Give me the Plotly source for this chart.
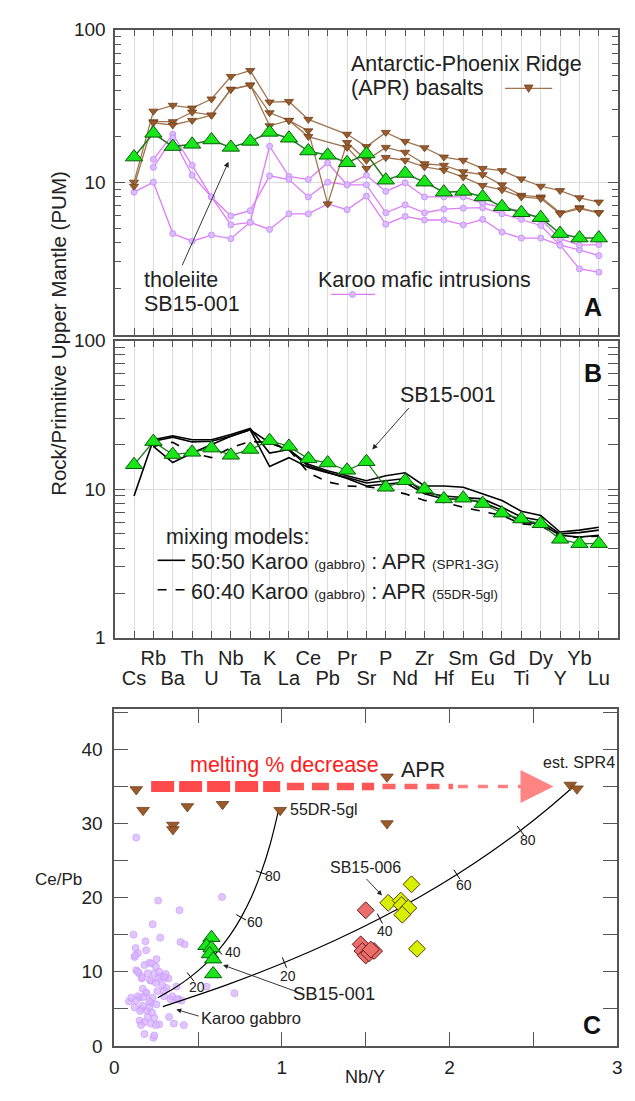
import math
import plotly.graph_objects as go

W, H = 635, 1101
FONT = "Liberation Sans, Arial, sans-serif"

# ---------------- Panels A & B: spider diagram data ----------------
elements = ["Cs", "Rb", "Ba", "Th", "U", "Nb", "Ta", "K", "La", "Ce", "Pb", "Pr", "Sr",
            "P", "Nd", "Zr", "Hf", "Sm", "Eu", "Gd", "Ti", "Dy", "Y", "Yb", "Lu"]

sb15_001 = [14.6, 20.9, 17.1, 17.7, 18.9, 16.9, 18.5, 21.2, 19.4, 16.0, 15.0, 13.4, 15.3,
            10.3, 11.4, 10.0, 8.6, 8.7, 8.0, 6.9, 6.3, 5.85, 4.6, 4.3, 4.3]

apr_1 = [10.0, 29.2, 31.9, 30.6, 35.1, 49.3, 53.9, 33.5, 33.8, 25.8, None, 20.6, 17.1,
         21.2, 18.5, 16.8, 14.6, 13.9, 12.3, 11.9, 10.5, 9.4, 8.8, 7.9, 7.4]
apr_2 = [9.4, 24.9, 24.9, 28.8, 27.5, 40.6, 43.3, 28.5, 25.4, 21.7, 7.2, 18.2, 13.9,
         16.9, 15.7, 13.2, 12.9, 11.7, 11.2, 9.6, 8.2, 8.0, 6.3, 6.8, 6.3]
apr_3 = [None, 24.5, 23.7, 25.4, 27.5, 40.6, 43.3, 23.4, 25.4, 19.9, None, 16.9, 12.3,
         14.5, 13.9, 12.6, 12.0, 10.8, 9.5, 8.9, 8.0, 7.8, 6.2, 6.7, 6.3]

karoo_1 = [8.6, 10.0, 4.6, 4.1, 4.5, 4.26, 5.45, 4.9, 6.2, 6.2, 7.2, 6.6, 8.1,
           5.3, 5.96, 5.65, 5.65, 5.25, 5.7, 4.7, 4.3, 4.3, 3.86, 3.6, 3.3]
karoo_2 = [None, 14.1, 20.6, 12.9, 8.0, 5.25, 5.45, 17.2, 10.9, 10.4, 13.4, 9.6, 11.1,
           8.7, 9.9, 8.0, 8.0, 8.0, 7.3, 6.8, 6.5, 5.7, 4.26, 3.86, 3.9]
karoo_3 = [None, 12.5, 19.5, 11.1, 8.0, 6.0, 6.5, 11.0, 10.4, 8.0, 10.0, 9.6, 9.6,
           6.3, 7.1, 6.3, 6.65, 6.75, 6.8, 6.2, 5.7, 5.2, 3.86, 2.7, 2.57]

mix_50_a = [9.0, 21.5, 22.9, 21.5, 21.5, 23.3, 25.6, 17.5, 18.5, 14.7, 13.3, 12.3, 11.4,
            12.3, 12.9, 10.5, 10.5, 10.3, 9.3, 8.4, 7.1, 6.65, 5.15, 5.3, 5.55]
mix_50_b = [None, 19.4, 15.1, 17.5, 20.0, 22.7, 25.1, 14.2, 16.3, 14.0, 12.9, 12.0, 11.0,
            11.4, 11.8, 9.5, 9.0, 8.8, 8.6, 7.55, 6.5, 6.15, 5.0, 5.1, 5.3]
mix_50_c = [None, 21.0, 22.4, 20.8, 21.0, 22.7, 25.1, 20.5, 18.3, 14.3, 13.0, 11.8, 10.5,
            10.8, 11.1, 9.3, 8.6, 8.6, 8.15, 7.2, 6.0, 5.85, 4.9, 4.76, 4.9]
mix_60 = [None, 19.4, 20.7, 17.5, 16.3, 19.0, 21.0, 20.5, 18.5, 12.9, 11.2, 10.5, 10.4,
          10.0, 9.3, 8.4, 8.15, 7.55, 7.06, 6.65, 5.85, 5.7, 4.76, 4.76, 4.83]

# ---------------- Panel C: Ce/Pb vs Nb/Y ----------------
karoo_nby = [0.131, 0.262, 0.643, 0.389, 0.115, 0.229, 0.186, 0.395, 0.42, 0.274, 0.127, 0.141,
             0.121, 0.19, 0.252, 0.18, 0.209, 0.223, 0.131, 0.147, 0.164, 0.199, 0.239, 0.268,
             0.277, 0.303, 0.323, 0.219, 0.248, 0.287, 0.311, 0.371, 0.551, 0.717, 0.17, 0.19,
             0.151, 0.088, 0.101, 0.121, 0.16, 0.199, 0.219, 0.252, 0.239, 0.151, 0.18, 0.219,
             0.268, 0.327, 0.356, 0.415, 0.18, 0.233, 0.336, 0.385, 0.401, 0.346, 0.297, 0.248,
             0.307, 0.141, 0.166, 0.297, 0.258, 0.297, 0.229, 0.19, 0.174, 0.141, 0.131, 0.209,
             0.17, 0.209, 0.154, 0.225, 0.199, 0.16, 0.248, 0.376, 0.239, 0.125, 0.213, 0.262]
karoo_cepb = [28.1, 19.6, 20.1, 18.3, 15.0, 16.4, 14.1, 14.0, 13.7, 14.6, 13.2, 12.5,
              12.0, 12.9, 11.7, 10.9, 11.2, 11.1, 10.2, 9.8, 9.1, 9.8, 9.8, 10.0,
              9.3, 9.2, 9.1, 8.8, 8.5, 8.2, 7.8, 8.0, 8.0, 7.1, 7.7, 7.1,
              6.5, 6.0, 6.5, 5.2, 5.0, 4.7, 5.8, 5.6, 3.8, 3.4, 3.2, 3.0,
              2.9, 3.9, 3.0, 2.8, 1.6, 1.1, 6.3, 6.3, 6.1, 6.7, 6.7, 10.7,
              9.7, 10.0, 9.3, 9.3, 7.4, 7.4, 6.5, 7.2, 6.6, 6.7, 6.1, 6.05,
              5.4, 5.2, 4.7, 4.5, 3.9, 2.8, 2.8, 6.3, 1.4, 12.2, 8.9, 9.1]

apr_nby = [0.131, 0.172, 0.35, 0.35, 0.436, 0.646, 0.99, 1.627, 1.627, 2.72, 2.76]
apr_cepb = [34.6, 31.8, 29.8, 29.2, 32.3, 32.6, 31.8, 36.3, 30.0, 35.2, 34.7]

sb001_nby = [0.58, 0.55, 0.58, 0.57, 0.59, 0.59]
sb001_cepb = [14.6, 13.5, 13.2, 12.4, 11.7, 9.7]

sb_red_nby = [1.50, 1.47, 1.48, 1.50, 1.52, 1.55, 1.53]
sb_red_cepb = [18.3, 13.7, 12.8, 12.2, 12.5, 12.8, 13.0]

sb006_nby = [1.634, 1.709, 1.714, 1.754, 1.718, 1.773, 1.806]
sb006_cepb = [19.3, 19.6, 19.0, 18.6, 17.7, 21.8, 13.1]

# mixing curves (points at 0,10,...,100 % APR)
mix_pct = [0, 10, 20, 30, 40, 50, 60, 70, 80, 90, 100]
curve1_nby = [0.26, 0.362, 0.455, 0.541, 0.619, 0.691, 0.757, 0.819, 0.876, 0.930, 0.98]
curve1_cepb = [6.5, 7.83, 9.31, 10.96, 12.83, 14.93, 17.34, 20.12, 23.37, 27.2, 31.8]
curve2_nby = [0.29, 0.675, 1.015, 1.315, 1.584, 1.826, 2.044, 2.242, 2.423, 2.588, 2.74]
curve2_cepb = [5.3, 8.27, 11.24, 14.21, 17.18, 20.15, 23.12, 26.09, 29.06, 32.03, 35.0]
tick_pcts = [20, 40, 60, 80]

# "melting % decrease" arrow pieces (Nb/Y extents at Ce/Pb = 35)
arrow_y = 35
arrow_pieces = [(0.22, 0.99), (1.03, 1.55), (1.60, 2.02), (2.05, 2.48)]
arrow_tip = 2.62

# ---------------- colours ----------------
GREEN_FILL = "#19e619"
GREEN_EDGE = "#0a5c0a"
GREEN_LINE = "#1f7a1f"
APR_LINE = "#a07550"
APR_FILL = "#9a5a2a"
APR_EDGE = "#6e4020"
KAR_LINE = "#e07cf7"
KAR_FILL = "#dcbcff"
KAR_EDGE = "#c795ff"
FRAME = "#555555"
GRID = "#dcdcdc"
TXT = 21.5

fig = go.Figure()
xi = list(range(len(elements)))

def spider(y, xa, ya, color, width, dash="solid", marker=None, mode="lines+markers"):
    d = dict(x=xi, y=y, xaxis=xa, yaxis=ya, mode=mode, connectgaps=True,
             line=dict(color=color, width=width, dash=dash), showlegend=False, hoverinfo="skip")
    if marker:
        d["marker"] = marker
    fig.add_trace(go.Scatter(**d))

kar_marker = dict(symbol="circle", size=6, color=KAR_FILL, line=dict(color=KAR_EDGE, width=1))
apr_marker = dict(symbol="triangle-down", size=8, color=APR_FILL, line=dict(color=APR_EDGE, width=0.8))
grn_marker = dict(symbol="triangle-up", size=15, color=GREEN_FILL, line=dict(color=GREEN_EDGE, width=1))

# Panel A
for s in (karoo_1, karoo_2, karoo_3):
    spider(s, "x", "y", KAR_LINE, 1.3, marker=kar_marker)
for s in (apr_1, apr_2, apr_3):
    spider(s, "x", "y", APR_LINE, 1.3, marker=apr_marker)
spider(sb15_001, "x", "y", GREEN_LINE, 1.5, marker=grn_marker)

# Panel B
for s in (mix_50_a, mix_50_b, mix_50_c):
    spider(s, "x2", "y2", "black", 1.6, mode="lines")
spider(mix_60, "x2", "y2", "black", 1.6, dash="dash", mode="lines")
spider(sb15_001, "x2", "y2", GREEN_LINE, 1.3, marker=grn_marker)
# invisible trace so that the second-row label axis exists
fig.add_trace(go.Scatter(x=[None], y=[None], xaxis="x4", yaxis="y2", mode="markers",
                         showlegend=False, hoverinfo="skip"))

# Panel C
fig.add_trace(go.Scatter(x=karoo_nby, y=karoo_cepb, xaxis="x3", yaxis="y3", mode="markers",
                         marker=dict(symbol="circle", size=7, color="rgba(215,180,255,0.75)",
                                     line=dict(color="rgba(200,150,255,0.8)", width=0.8)),
                         showlegend=False, hoverinfo="skip"))

# red arrow
arrow_widths = [11, 7.5, 5.5, 3.5]
arrow_colors = ["#ff4b4b", "#ff5555", "#ff6464", "#ff8080"]
arrow_dashes = ["23px,5px", "17px,8px", "13px,9px", "10px,10px"]
for (a0, a1), w, c, dsh in zip(arrow_pieces, arrow_widths, arrow_colors, arrow_dashes):
    fig.add_trace(go.Scatter(x=[a0, a1], y=[arrow_y, arrow_y], xaxis="x3", yaxis="y3", mode="lines",
                             line=dict(color=c, width=w, dash=dsh), showlegend=False, hoverinfo="skip"))

# mixing curves
for cx, cy in ((curve1_nby, curve1_cepb), (curve2_nby, curve2_cepb)):
    fig.add_trace(go.Scatter(x=cx, y=cy, xaxis="x3", yaxis="y3", mode="lines",
                             line=dict(color="black", width=1.2, shape="spline"),
                             showlegend=False, hoverinfo="skip"))

SX = 511 / 3.0
SY = 343 / 45.4
tick_x, tick_y, tick_ang = [], [], []
for cx, cy in ((curve1_nby, curve1_cepb), (curve2_nby, curve2_cepb)):
    for p in tick_pcts:
        i = mix_pct.index(p)
        dx = (cx[i + 1] - cx[i - 1]) * SX
        dy = (cy[i + 1] - cy[i - 1]) * SY
        phi = math.degrees(math.atan2(dy, dx))
        tick_x.append(cx[i]); tick_y.append(cy[i]); tick_ang.append(-phi)
fig.add_trace(go.Scatter(x=tick_x, y=tick_y, xaxis="x3", yaxis="y3", mode="markers",
                         marker=dict(symbol="line-ns", size=8, angle=tick_ang,
                                     line=dict(color="black", width=1)),
                         showlegend=False, hoverinfo="skip"))

fig.add_trace(go.Scatter(x=apr_nby, y=apr_cepb, xaxis="x3", yaxis="y3", mode="markers",
                         marker=dict(symbol="triangle-down", size=11, color=APR_FILL,
                                     line=dict(color=APR_EDGE, width=0.8)),
                         showlegend=False, hoverinfo="skip"))
fig.add_trace(go.Scatter(x=sb_red_nby, y=sb_red_cepb, xaxis="x3", yaxis="y3", mode="markers",
                         marker=dict(symbol="diamond", size=13, color="#ea6f6c",
                                     line=dict(color="#6a1a1a", width=1)),
                         showlegend=False, hoverinfo="skip"))
fig.add_trace(go.Scatter(x=sb006_nby, y=sb006_cepb, xaxis="x3", yaxis="y3", mode="markers",
                         marker=dict(symbol="diamond", size=13, color="#d6f000",
                                     line=dict(color="#5a3a10", width=1)),
                         showlegend=False, hoverinfo="skip"))
fig.add_trace(go.Scatter(x=sb001_nby, y=sb001_cepb, xaxis="x3", yaxis="y3", mode="markers",
                         marker=dict(symbol="triangle-up", size=15, color=GREEN_FILL,
                                     line=dict(color=GREEN_EDGE, width=1)),
                         showlegend=False, hoverinfo="skip"))

# ---------------- axes ----------------
def px_x(x):
    return x / W

def px_y(y):
    return 1 - y / H

minor_vals = [v * m for m in (1, 10) for v in range(2, 10)]

def spider_yaxis(domain, tickvals):
    return dict(domain=domain, type="log", range=[0, 2], tickvals=tickvals,
                ticktext=[str(v) for v in tickvals], ticks="inside", ticklen=10,
                tickcolor=FRAME, tickwidth=1,
                minor=dict(tickvals=minor_vals, ticks="inside", ticklen=6, tickcolor=FRAME, showgrid=False),
                mirror="allticks", showline=True, linecolor=FRAME, linewidth=1.5,
                showgrid=True, gridcolor=GRID, gridwidth=1, zeroline=False,
                tickfont=dict(size=19, color="#222"), ticklabelstandoff=4)

XDOM = [px_x(112), px_x(623)]
XR = [-0.97, 25.0]

def spider_xaxis(anchor, showlabels):
    tt = [e if i % 2 == 1 else "" for i, e in enumerate(elements)]
    return dict(domain=XDOM, range=XR, anchor=anchor,
                tickvals=xi, ticktext=tt, showticklabels=showlabels, tickangle=0,
                ticks="inside", ticklen=7,
                tickcolor=FRAME, mirror="allticks", showline=True, linecolor=FRAME, linewidth=1.5,
                showgrid=True, gridcolor=GRID, gridwidth=1, zeroline=False,
                tickfont=dict(size=20, color="#222"), ticklabelstandoff=1)

even_idx = [i for i in xi if i % 2 == 0]

c_xvals = [0, 0.5, 1, 1.5, 2, 2.5, 3]
c_yvals = [0, 5, 10, 15, 20, 25, 30, 35, 40, 45]

fig.update_layout(
    width=W, height=H, margin=dict(l=0, r=0, t=0, b=0),
    paper_bgcolor="white", plot_bgcolor="white",
    font=dict(family=FONT, color="#222"),
    xaxis=spider_xaxis("y", False),
    yaxis=spider_yaxis([px_y(331), px_y(20)], [10, 100]),
    xaxis2=spider_xaxis("y2", True),
    yaxis2=spider_yaxis([px_y(640), px_y(337)], [1, 10, 100]),
    xaxis4=dict(overlaying="x2", anchor="y2", range=XR, tickvals=even_idx,
                ticktext=[elements[i] for i in even_idx], tickangle=0, ticks="",
                showline=False, showgrid=False, zeroline=False,
                tickfont=dict(size=20, color="#222"), ticklabelstandoff=26),
    xaxis3=dict(domain=[px_x(111), px_x(622)], range=[0, 3], anchor="y3",
                tickvals=c_xvals, ticktext=[("%g" % v) if v == int(v) else "" for v in c_xvals],
                ticks="inside", ticklen=14, tickcolor=FRAME, mirror="allticks", showline=True,
                linecolor=FRAME, linewidth=1.5, showgrid=False, zeroline=False,
                tickfont=dict(size=19, color="#222"), ticklabelstandoff=4),
    yaxis3=dict(domain=[px_y(1056), px_y(713)], range=[0, 45.4], anchor="x3",
                tickvals=c_yvals, ticktext=[str(v) if v % 10 == 0 else "" for v in c_yvals],
                ticks="inside", ticklen=14, tickcolor=FRAME, mirror="allticks", showline=True,
                linecolor=FRAME, linewidth=1.5, showgrid=False, zeroline=False,
                tickfont=dict(size=19, color="#222"), ticklabelstandoff=6),
)

# ---------------- annotations ----------------
ann = []
shapes = []

def ptext(x, y, text, size=TXT, xanchor="left", color="#222", **kw):
    ann.append(dict(x=px_x(x), y=px_y(y), xref="paper", yref="paper", text=text, showarrow=False,
                    xanchor=xanchor, yanchor="middle", font=dict(size=size, color=color, family=FONT), **kw))

# panel A
ptext(350, 55, "Antarctic-Phoenix Ridge")
ptext(350, 80, "(APR) basalts")
ptext(139, 275, "tholeiite")
ptext(139, 300, "SB15-001")
ptext(316, 275, "Karoo mafic intrusions")
ptext(597, 303, "<b>A</b>", size=25, xanchor="center", color="#111")
ptext(55, 330, "Rock/Primitive Upper Mantle (PUM)", size=20.5, xanchor="center", textangle=-90)

# panel A legend keys
shapes.append(dict(type="line", xref="paper", yref="paper", x0=px_x(508), x1=px_x(556),
                   y0=px_y(80), y1=px_y(80), line=dict(color=APR_LINE, width=1.3)))
shapes.append(dict(type="path", xref="paper", yref="paper",
                   path="M %f,%f L %f,%f L %f,%f Z" % (px_x(527.5), px_y(76.5), px_x(536.5), px_y(76.5),
                                                       px_x(532), px_y(84)),
                   fillcolor=APR_FILL, line=dict(color=APR_EDGE, width=0.8)))
shapes.append(dict(type="line", xref="paper", yref="paper", x0=px_x(331), x1=px_x(376),
                   y0=px_y(290), y1=px_y(290), line=dict(color=KAR_LINE, width=1.3)))
shapes.append(dict(type="circle", xref="paper", yref="paper", x0=px_x(350), x1=px_x(356),
                   y0=px_y(293), y1=px_y(287), fillcolor=KAR_FILL, line=dict(color=KAR_EDGE, width=1)))

# arrow panel A
ann.append(dict(x=4.88, y=math.log10(13.6), xref="x", yref="y", text="", showarrow=True,
                ax=-47, ay=105, arrowhead=2, arrowsize=1.2, arrowwidth=0.9, arrowcolor="#222"))

# panel B
ptext(450, 392, "SB15-001", xanchor="center")
ann.append(dict(x=12.3, y=math.log10(18.5), xref="x2", yref="y2", text="", showarrow=True,
                ax=38, ay=-43, arrowhead=2, arrowsize=1.2, arrowwidth=0.9, arrowcolor="#222"))
ptext(597, 370, "<b>B</b>", size=25, xanchor="center", color="#111")
ptext(162, 537, "mixing models:")
SM = "<span style='font-size:13.5px'>%s</span>"
ptext(187, 563, "50:50 Karoo " + SM % "(gabbro)" + " : APR " + SM % "(SPR1-3G)")
ptext(187, 593, "60:40 Karoo " + SM % "(gabbro)" + " : APR " + SM % "(55DR-5gl)")
shapes.append(dict(type="line", xref="paper", yref="paper", x0=px_x(155), x1=px_x(183),
                   y0=px_y(561), y1=px_y(561), line=dict(color="black", width=1.6)))
shapes.append(dict(type="line", xref="paper", yref="paper", x0=px_x(155), x1=px_x(183),
                   y0=px_y(591), y1=px_y(591), line=dict(color="black", width=1.6, dash="dash")))

# panel C
def dtext(x, y, text, size=16, xanchor="center", color="#222", **kw):
    ann.append(dict(x=x, y=y, xref="x3", yref="y3", text=text, showarrow=False, xanchor=xanchor,
                    yanchor="middle", font=dict(size=size, color=color, family=FONT), **kw))

dtext(1.015, 37.9, "melting % decrease", size=21.5, color="#ff1a1a")
dtext(1.84, 37.2, "APR", size=21.5)
dtext(2.77, 38.2, "est. SPR4", size=16)
dtext(0.99, 31.9, "55DR-5gl", size=16, xanchor="left", xshift=8)
dtext(1.496, 24.1, "SB15-006", size=16)
dtext(1.308, 7.0, "SB15-001", size=18.5)
dtext(0.815, 3.7, "Karoo gabbro", size=16.5)
dtext(2.85, 2.8, "<b>C</b>", size=25, color="#111")

label_shift1 = [(6, -10), (15, -1), (14, -5), (12, -3)]
label_shift2 = [(4, -13), (5, -12), (7, -10), (8, -9)]
for cx, cy, shifts in ((curve1_nby, curve1_cepb, label_shift1), (curve2_nby, curve2_cepb, label_shift2)):
    for p, (sx, sy) in zip(tick_pcts, shifts):
        i = mix_pct.index(p)
        dtext(cx[i], cy[i], str(p), size=14, xshift=sx, yshift=sy)

# arrowhead of the red arrow
ann.append(dict(x=arrow_tip, y=arrow_y, xref="x3", yref="y3", ax=arrow_pieces[-1][1], ay=arrow_y,
                axref="x3", ayref="y3", text="", showarrow=True, arrowhead=2, arrowsize=2.2,
                arrowwidth=3, arrowcolor="#ff8585"))

for hx, hy, ax, ay in ((0.649, 10.9, 83, 30), (0.37, 4.9, 24, 7), (1.597, 20.3, -17, -18)):
    ann.append(dict(x=hx, y=hy, xref="x3", yref="y3", text="", showarrow=True, ax=ax, ay=ay,
                    arrowhead=2, arrowsize=1.1, arrowwidth=0.9, arrowcolor="#222"))

ptext(54, 886, "Ce/Pb", size=17, xanchor="center")
ptext(366, 1088, "Nb/Y", size=18, xanchor="center")

fig.update_layout(annotations=ann, shapes=shapes)
fig.write_html("out.html")
